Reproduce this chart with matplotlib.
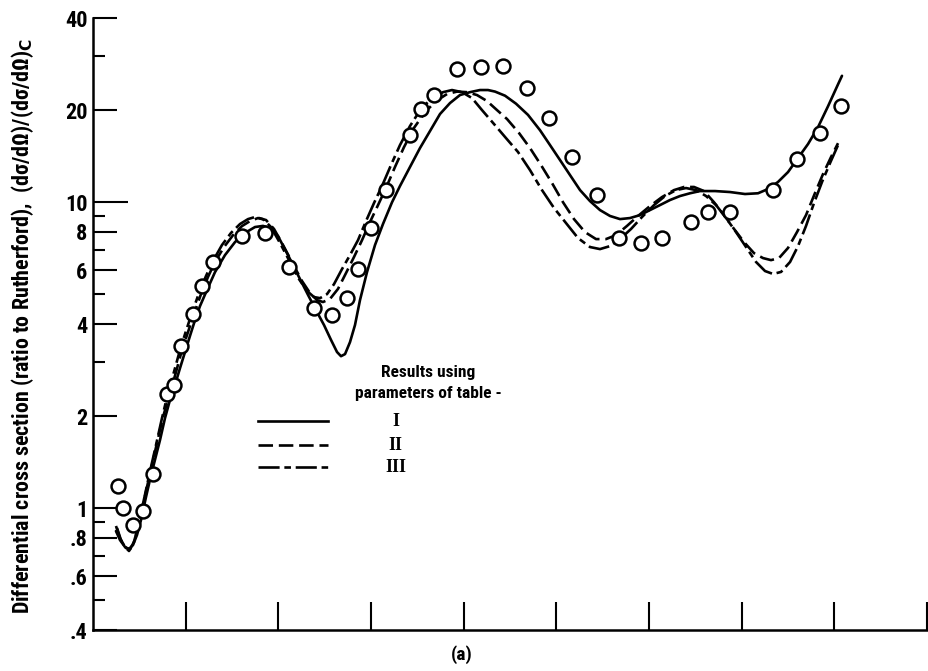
import matplotlib
matplotlib.use("Agg")
import matplotlib.pyplot as plt
from matplotlib import font_manager

# ── Data ─────────────────────────────────────────────────────────────────────
# measured points: scattering angle (deg) vs ratio to Rutherford
angle_exp = [5.5, 6.4, 8.7, 10.7, 12.9, 15.9, 17.5, 19.1, 21.5, 23.5, 25.8,
             32.1, 37.2, 42.4, 47.8, 51.5, 54.9, 57.3, 60.0, 63.2, 68.4,
             70.8, 73.5, 78.5, 83.7, 88.4, 93.6, 98.5, 103.3, 108.7, 113.6,
             118.2, 122.8, 129.0, 132.8, 137.5, 146.7, 152.0, 156.9, 161.4]
ratio_exp = [1.18, 1.00, 0.88, 0.98, 1.29, 2.37, 2.53, 3.40, 4.30, 5.34, 6.39,
             7.76, 7.94, 6.13, 4.50, 4.28, 4.88, 6.04, 8.22, 11.0, 16.6,
             20.1, 22.5, 27.3, 27.7, 27.9, 23.7, 18.8, 14.1, 10.6, 7.62,
             7.34, 7.62, 8.65, 9.27, 9.27, 10.96, 13.8, 16.9, 20.6]

# parameters of table I (solid)
angle_I = [4.96, 5.83, 6.91, 7.77, 8.63, 9.50, 10.36, 11.44, 12.30, 13.38,
           14.46, 15.54, 16.62, 17.70, 18.78, 19.86, 20.94, 22.02, 23.10,
           24.61, 26.33, 28.49, 30.65, 32.81, 34.97, 36.69, 38.20, 39.93,
           42.09, 44.25, 46.41, 48.13, 49.86, 51.37, 52.67, 53.53, 54.40,
           55.47, 56.55, 57.63, 59.14, 60.87, 62.59, 64.54, 66.26, 68.42,
           70.58, 72.74, 74.90, 77.06, 79.21, 81.37, 83.53, 85.26, 86.77,
           88.93, 91.30, 93.89, 96.48, 98.64, 100.80, 102.96, 105.12, 107.27,
           109.43, 111.59, 113.75, 115.91, 118.07, 120.22, 122.38, 124.54,
           126.70, 128.86, 131.02, 134.26, 137.49, 140.73, 143.54, 145.70,
           147.85, 150.01, 152.17, 154.33, 156.49, 158.65, 160.81, 161.66]
ratio_I = [0.842, 0.787, 0.747, 0.736, 0.758, 0.818, 0.915, 1.088, 1.24, 1.44,
           1.67, 1.97, 2.26, 2.53, 2.87, 3.24, 3.66, 4.12, 4.58,
           5.17, 5.91, 6.72, 7.41, 7.94, 8.30, 8.37, 8.24, 7.75,
           6.72, 5.78, 4.98, 4.44, 3.97, 3.55, 3.24, 3.14, 3.19,
           3.49, 3.97, 4.79, 5.91, 7.25, 8.49, 10.0, 11.3, 13.04,
           15.04, 17.09, 19.43, 21.1, 22.41, 22.9, 23.27, 23.27, 23.0,
           22.3, 21.0, 19.3, 17.2, 15.38, 13.74, 12.27, 10.96, 10.09,
           9.43, 9.02, 8.81, 8.88, 9.08, 9.43, 9.79, 10.17,
           10.48, 10.7, 10.88, 10.88, 10.8, 10.64, 10.7, 11.05,
           11.65, 12.55, 13.95, 15.5, 17.6, 20.6, 24.3, 25.9]

# parameters of table II (dashed)
angle_II = [5.18, 6.04, 7.12, 7.99, 8.85, 9.71, 10.58, 11.66, 12.73, 13.81,
            15.11, 16.62, 17.92, 19.21, 20.51, 21.80, 23.31, 24.82, 26.33,
            28.28, 30.23, 32.16, 33.89, 35.61, 37.34, 39.07, 41.01, 43.17,
            45.11, 46.84, 48.35, 49.64, 51.15, 52.88, 54.61, 56.33, 58.07,
            59.79, 61.52, 63.24, 65.18, 67.13, 69.29, 71.66, 74.03, 76.41,
            78.57, 80.73, 82.88, 85.04, 87.20, 89.36, 91.95, 94.32, 96.70,
            99.07, 101.45, 103.82, 106.19, 108.57, 110.73, 112.89, 115.26,
            117.64, 120.22, 122.82, 125.41, 127.57, 129.72, 131.88, 134.04,
            136.20, 138.36, 140.52, 142.67, 144.62, 146.34, 148.07, 150.01,
            151.95, 153.90, 155.84, 157.57, 159.29, 160.81]
ratio_II = [0.862, 0.787, 0.741, 0.736, 0.776, 0.862, 0.987, 1.174, 1.384, 1.634,
            1.987, 2.38, 2.787, 3.29, 3.767, 4.31, 5.01, 5.70, 6.38,
            7.14, 7.81, 8.36, 8.68, 8.88, 8.75, 8.18, 7.25, 6.28,
            5.53, 5.05, 4.79, 4.72, 4.83, 5.21, 5.87, 6.62, 7.52,
            8.62, 9.79, 11.13, 13.04, 15.15, 17.5, 19.7, 21.42, 22.58,
            23.0, 22.9, 22.41, 21.42, 20.01, 18.71, 16.84, 15.04, 13.23,
            11.56, 10.0, 8.81, 7.99, 7.58, 7.58, 7.81, 8.37,
            9.02, 9.72, 10.40, 10.96, 11.22, 11.22, 10.88, 10.0,
            9.08, 8.18, 7.41, 6.82, 6.57, 6.47, 6.57, 7.09,
            7.99, 9.08, 10.72, 12.37, 14.05, 15.6]

# parameters of table III (long-short dash)
angle_III = [4.96, 5.83, 6.91, 7.77, 8.63, 9.50, 10.36, 11.44, 12.52, 13.60,
             14.89, 16.19, 17.48, 18.78, 20.07, 21.37, 22.88, 24.39, 25.90,
             27.84, 29.79, 31.73, 33.46, 34.97, 36.69, 38.42, 40.36, 42.52,
             44.46, 46.19, 47.70, 49.00, 50.51, 52.02, 53.75, 55.47, 57.20,
             58.93, 60.65, 62.38, 64.32, 66.26, 68.42, 70.80, 73.17, 75.55,
             77.49, 79.65, 81.81, 83.96, 86.55, 89.14, 91.73, 94.32, 96.91,
             99.50, 102.10, 104.68, 107.27, 109.43, 111.59, 113.75, 116.13,
             118.50, 121.09, 123.46, 125.84, 128.00, 130.16, 132.32, 134.48,
             136.64, 138.79, 140.95, 143.11, 145.05, 146.78, 148.51, 150.45,
             152.17, 153.90, 155.62, 157.35, 159.08, 160.81]
ratio_III = [0.875, 0.799, 0.747, 0.725, 0.758, 0.842, 0.965, 1.147, 1.364, 1.609,
             1.97, 2.38, 2.79, 3.29, 3.795, 4.35, 5.05, 5.74, 6.43,
             7.25, 7.94, 8.49, 8.81, 8.95, 8.81, 8.30, 7.36, 6.38,
             5.61, 5.13, 4.90, 4.86, 5.01, 5.40, 6.05, 6.72, 7.52,
             8.68, 9.94, 11.30, 13.23, 15.38, 17.75, 20.2, 21.9, 22.9,
             23.27, 22.9, 21.9, 20.01, 18.02, 16.21, 14.60, 12.74, 10.96,
             9.58, 8.55, 7.64, 7.14, 7.03, 7.19, 7.58, 8.18,
             8.95, 9.79, 10.48, 10.96, 11.13, 10.96, 10.48, 9.79,
             8.88, 7.99, 7.14, 6.38, 5.96, 5.83, 5.92, 6.38,
             7.19, 8.37, 9.94, 11.65, 13.43, 15.38]

y_major = [0.4, 0.6, 0.8, 1, 2, 4, 6, 8, 10, 20, 40]
y_major_labels = [".4", ".6", ".8", "1", "2", "4", "6", "8", "10", "20", "40"]
y_minor = [0.5, 0.7, 0.9, 3, 5, 7, 9, 30]
x_ticks = [20, 40, 60, 80, 100, 120, 140, 160, 180]

# ── Style ────────────────────────────────────────────────────────────────────
# prefer a condensed sans like the original lettering, if one is installed
installed = {f.name for f in font_manager.fontManager.ttflist}
SANS = [f for f in ["Liberation Sans Narrow", "Roboto Condensed",
                    "Open Sans Condensed", "Roboto"] if f in installed][:1]
SANS += ["DejaVu Sans"]
plt.rcParams["font.family"] = SANS
plt.rcParams["font.weight"] = "bold"
plt.rcParams["mathtext.fontset"] = "dejavusans"
LW = 1.9
DASH_II = (0, (5.5, 2.2))
DASH_III = (0, (8, 1.8, 2.5, 1.8))

fig = plt.figure(figsize=(9.29, 6.71), dpi=100)
ax = fig.add_axes([0.1001, 0.0611, 0.8977, 0.912])

ax.plot(angle_I, ratio_I, color="black", lw=LW, solid_capstyle="round")
ax.plot(angle_II, ratio_II, color="black", lw=LW, linestyle=DASH_II)
ax.plot(angle_III, ratio_III, color="black", lw=LW, linestyle=DASH_III)
ax.plot(angle_exp, ratio_exp, "o", ms=10, mfc="white", mec="black",
        mew=1.8, zorder=4, clip_on=False)

ax.set_yscale("log")
ax.set_xlim(0, 180)
ax.set_ylim(0.4, 40)

ax.set_yticks(y_major)
ax.set_yticklabels(y_major_labels)
ax.set_yticks(y_minor, minor=True)
ax.set_yticklabels([], minor=True)
ax.set_xticks(x_ticks)
ax.set_xticklabels([])
ax.xaxis.set_minor_locator(plt.NullLocator())

ax.tick_params(axis="y", which="major", direction="in", length=17,
               width=1.5, labelsize=16, pad=4)
ax.tick_params(axis="y", which="minor", direction="in", length=8.5, width=1.5)
ax.tick_params(axis="x", which="major", direction="in", length=20, width=1.5)
# the tick at 10 runs further into the plot
for t, v in zip(ax.yaxis.get_major_ticks(), y_major):
    if v == 10:
        t.tick1line.set_markersize(25)

for side in ["top", "right"]:
    ax.spines[side].set_visible(False)
for side in ["left", "bottom"]:
    ax.spines[side].set_linewidth(1.8)

# ── Key ──────────────────────────────────────────────────────────────────────
ax.text(0.402, 0.4216, "Results using", transform=ax.transAxes,
        ha="center", va="center", fontsize=12.5)
ax.text(0.402, 0.387, "parameters of table -", transform=ax.transAxes,
        ha="center", va="center", fontsize=12.5)
key = [("I", "-", 0.3415), ("II", DASH_II, 0.3023), ("III", DASH_III, 0.2663)]
for label, ls, yk in key:
    ax.plot([0.198, 0.282], [yk, yk], transform=ax.transAxes, color="black",
            lw=LW, linestyle=ls)
    ax.text(0.363, yk, label, transform=ax.transAxes, ha="center",
            va="center", fontsize=13, family=["Liberation Serif", "DejaVu Serif"],
            fontweight="bold")

ylab = fig.text(0.024, 0.514,
                "Differential cross section (ratio to Rutherford),  "
                "(dσ/dΩ)/(dσ/dΩ)$_\\mathbf{C}$",
                rotation=90, ha="center", va="center", fontsize=14)
fig.text(0.497, 0.0238, "(a)", ha="center", va="center", fontsize=14)

# size the side label so it spans the same height as in the original
fig.canvas.draw()
h = ylab.get_window_extent().height
ylab.set_fontsize(14 * 578 / h)

fig.savefig("out.png", dpi=100)
